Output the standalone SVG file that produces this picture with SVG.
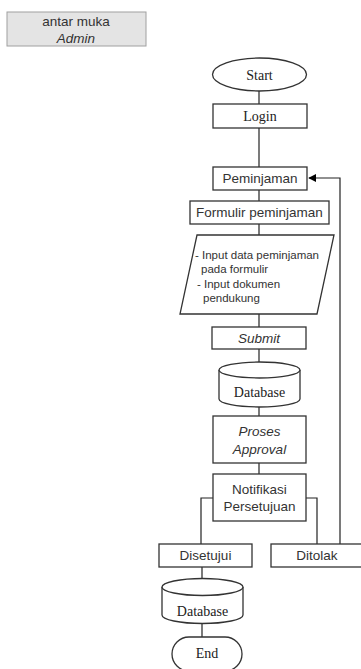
<svg xmlns="http://www.w3.org/2000/svg" width="361" height="669" viewBox="0 0 361 669">
<defs>
<style>
.box{fill:#fff;stroke:#333;stroke-width:1.3}
.hdr{fill:#e4e4e4;stroke:#a0a0a0;stroke-width:1}
.s{font-family:"Liberation Sans",Arial,sans-serif;font-size:13.5px;fill:#333;text-anchor:middle}
.sm{font-family:"Liberation Sans",Arial,sans-serif;font-size:11.5px;fill:#333}
.t{font-family:"Liberation Serif","Times New Roman",serif;font-size:14px;fill:#222;text-anchor:middle}
.i{font-style:italic}
.c{fill:none;stroke:#222;stroke-width:1.2}
</style>
<marker id="arr" viewBox="0 0 10 10" refX="9" refY="5" markerWidth="8" markerHeight="8" markerUnits="userSpaceOnUse" orient="auto">
<path d="M0,0 L10,5 L0,10 Z" fill="#000"/>
</marker>
</defs>
<rect width="361" height="669" fill="#fff"/>
<g id="header">
<rect class="hdr" x="7" y="12" width="139" height="34"/>
<text class="s" x="76" y="26">antar muka</text>
<text class="s i" x="76" y="43">Admin</text>
</g>
<g id="connectors">
<path class="c" d="M259,91 V104"/>
<path class="c" d="M259,128 V167"/>
<path class="c" d="M259,190 V201"/>
<path class="c" d="M259,224 V235"/>
<path class="c" d="M259,314 V327"/>
<path class="c" d="M259,349 V362"/>
<path class="c" d="M259,407 V416"/>
<path class="c" d="M259,463 V474"/>
<path class="c" d="M213,498 H201 V544"/>
<path class="c" d="M306,498 H317 V544"/>
<path class="c" d="M340,544 V178 H309" marker-end="url(#arr)"/>
<path class="c" d="M202,567 V578"/>
<path class="c" d="M202,623 V637"/>
</g>
<g id="start">
<ellipse class="box" cx="259.5" cy="74.5" rx="47" ry="16.5"/>
<text class="t" x="259.5" y="80">Start</text>
</g>
<g id="login">
<rect class="box" x="213" y="104" width="94" height="24"/>
<text class="t" x="260" y="121">Login</text>
</g>
<g id="peminjaman">
<rect class="box" x="213" y="167" width="94" height="23"/>
<text class="s" x="260" y="183">Peminjaman</text>
</g>
<g id="formulir">
<rect class="box" x="190" y="201" width="139" height="23"/>
<text class="s" x="259.5" y="217">Formulir peminjaman</text>
</g>
<g id="input">
<polygon class="box" points="197,235 334,235 317,314 180,314"/>
<text class="sm" x="195" y="259">- Input data peminjaman</text>
<text class="sm" x="201" y="273">pada formulir</text>
<text class="sm" x="197" y="288">- Input dokumen</text>
<text class="sm" x="203" y="302">pendukung</text>
</g>
<g id="submit">
<rect class="box" x="212" y="327" width="94" height="22"/>
<text class="s i" x="259" y="343">Submit</text>
</g>
<g id="database1">
<path class="box" d="M219,370 A40.5,8 0 0 1 300,370 L300,399 A40.5,8 0 0 1 219,399 Z"/>
<path class="box" d="M219,370 A40.5,8 0 0 0 300,370" fill="none"/>
<text class="t" x="259.5" y="397">Database</text>
</g>
<g id="proses">
<rect class="box" x="213" y="416" width="93" height="47"/>
<text class="s i" x="259.5" y="436">Proses</text>
<text class="s i" x="259.5" y="454">Approval</text>
</g>
<g id="notifikasi">
<rect class="box" x="213" y="474" width="93" height="47"/>
<text class="s" x="259.5" y="494">Notifikasi</text>
<text class="s" x="259.5" y="511">Persetujuan</text>
</g>
<g id="disetujui">
<rect class="box" x="159" y="544" width="93" height="23"/>
<text class="s" x="205.5" y="560">Disetujui</text>
</g>
<g id="ditolak">
<rect class="box" x="271" y="544" width="93" height="23"/>
<text class="s" x="317" y="560">Ditolak</text>
</g>
<g id="database2">
<path class="box" d="M162,587 A40.5,8.5 0 0 1 243,587 L243,615 A40.5,8.5 0 0 1 162,615 Z"/>
<path class="box" d="M162,587 A40.5,8.5 0 0 0 243,587" fill="none"/>
<text class="t" x="202.5" y="616">Database</text>
</g>
<g id="end">
<rect class="box" x="172" y="637" width="70" height="34" rx="17"/>
<text class="t" x="207" y="658">End</text>
</g>
</svg>
